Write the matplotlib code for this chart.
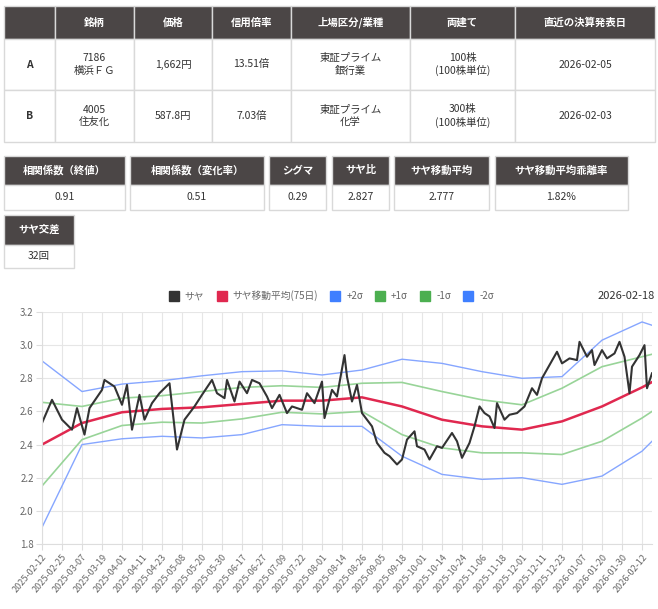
import matplotlib
matplotlib.use("Agg")
import matplotlib.pyplot as plt
from matplotlib.patches import Rectangle
from matplotlib.lines import Line2D

plt.rcParams['font.family'] = ['Noto Sans CJK JP', 'DejaVu Sans']

# ---- table data ----
head_cols = ["", "銘柄", "価格", "信用倍率", "上場区分/業種", "両建て", "直近の決算発表日"]
row_a = ["A", "7186\n横浜ＦＧ", "1,662円", "13.51倍", "東証プライム\n銀行業", "100株\n(100株単位)", "2026-02-05"]
row_b = ["B", "4005\n住友化", "587.8円", "7.03倍", "東証プライム\n化学", "300株\n(100株単位)", "2026-02-03"]
stat_names = ["相関係数（終値）", "相関係数（変化率）", "シグマ", "サヤ比", "サヤ移動平均", "サヤ移動平均乖離率"]
stat_values = ["0.91", "0.51", "0.29", "2.827", "2.777", "1.82%"]
cross_name = "サヤ交差"
cross_value = "32回"

# ---- chart data ----
tick_labels = ["2025-02-12", "2025-02-25", "2025-03-07", "2025-03-19", "2025-04-01", "2025-04-11",
               "2025-04-23", "2025-05-08", "2025-05-20", "2025-05-30", "2025-06-17", "2025-06-27",
               "2025-07-09", "2025-07-22", "2025-08-01", "2025-08-14", "2025-08-26", "2025-09-05",
               "2025-09-18", "2025-10-01", "2025-10-14", "2025-10-24", "2025-11-06", "2025-11-18",
               "2025-12-01", "2025-12-11", "2025-12-23", "2026-01-07", "2026-01-20", "2026-01-30",
               "2026-02-12"]
saya_days = [0, 4, 8, 12, 14, 17, 19, 24, 25, 29, 32, 34, 36, 39, 41, 44, 47, 51, 54, 57, 61, 64,
             68, 70, 73, 74, 77, 79, 82, 84, 87, 90, 92, 95, 98, 100, 104, 106, 109, 112, 113, 116,
             118, 121, 122, 124, 126, 128, 132, 134, 137, 139, 142, 144, 146, 149, 150, 153, 155,
             158, 160, 164, 166, 168, 171, 173, 175, 177, 179, 181, 182, 185, 187, 190, 193, 196,
             198, 200, 203, 206, 208, 211, 214, 215, 218, 220, 221, 224, 226, 229, 231, 233, 235,
             236, 239, 241, 242, 244]
saya = [2.53, 2.67, 2.55, 2.49, 2.62, 2.46, 2.62, 2.73, 2.79, 2.75, 2.64, 2.76, 2.49, 2.70, 2.55,
        2.65, 2.71, 2.77, 2.37, 2.55, 2.63, 2.70, 2.79, 2.71, 2.68, 2.79, 2.66, 2.78, 2.71, 2.79,
        2.77, 2.69, 2.62, 2.70, 2.59, 2.63, 2.61, 2.71, 2.65, 2.78, 2.56, 2.73, 2.69, 2.94, 2.81,
        2.66, 2.76, 2.59, 2.51, 2.41, 2.35, 2.33, 2.28, 2.31, 2.43, 2.48, 2.39, 2.37, 2.31, 2.39,
        2.38, 2.47, 2.42, 2.32, 2.41, 2.51, 2.63, 2.59, 2.57, 2.50, 2.65, 2.55, 2.58, 2.59, 2.63,
        2.74, 2.70, 2.80, 2.88, 2.96, 2.89, 2.92, 2.91, 3.02, 2.93, 2.97, 2.88, 2.97, 2.92, 2.95,
        3.02, 2.93, 2.71, 2.87, 2.94, 3.00, 2.74, 2.83]
band_days = [0, 16, 32, 48, 64, 80, 96, 112, 128, 144, 160, 176, 192, 208, 224, 240, 244]
ma = [2.40, 2.53, 2.595, 2.615, 2.625, 2.645, 2.665, 2.665, 2.685, 2.63, 2.55, 2.51, 2.49, 2.54, 2.63, 2.745, 2.777]
p1 = [2.655, 2.63, 2.68, 2.695, 2.72, 2.745, 2.755, 2.745, 2.77, 2.775, 2.72, 2.67, 2.64, 2.74, 2.87, 2.93, 2.945]
p2 = [2.905, 2.72, 2.765, 2.785, 2.815, 2.84, 2.845, 2.82, 2.85, 2.915, 2.89, 2.84, 2.80, 2.81, 3.03, 3.14, 3.12]
m1 = [2.15, 2.43, 2.515, 2.535, 2.53, 2.555, 2.595, 2.585, 2.60, 2.46, 2.38, 2.35, 2.35, 2.34, 2.42, 2.56, 2.60]
m2 = [1.90, 2.40, 2.435, 2.45, 2.44, 2.46, 2.52, 2.51, 2.51, 2.33, 2.22, 2.19, 2.20, 2.16, 2.21, 2.36, 2.42]
tick_step = 8

HEAD = '#4b4646'
BORDER = '#d9d9d9'

fig = plt.figure(figsize=(6.58, 6.09), dpi=100)
bg = fig.add_axes([0, 0, 1, 1])
bg.set_xlim(0, 658)
bg.set_ylim(609, 0)
bg.axis('off')


def cell(x0, x1, y0, y1, text, header=False, bold=False, size=7.5):
    bg.add_patch(Rectangle((x0, y0), x1 - x0, y1 - y0, facecolor=HEAD if header else 'white',
                           edgecolor=BORDER, linewidth=1))
    bg.text((x0 + x1) / 2, (y0 + y1) / 2, text, ha='center', va='center', fontsize=size,
            color='white' if header else '#333333', fontweight='bold' if (header or bold) else 'normal',
            linespacing=1.3)


col_x = [4, 55, 134, 212, 291, 410, 515, 655]
row_y = [6, 39, 90, 142]
for i, t in enumerate(head_cols):
    cell(col_x[i], col_x[i + 1], row_y[0], row_y[1], t, header=True)
for r, row in enumerate([row_a, row_b]):
    for i, t in enumerate(row):
        cell(col_x[i], col_x[i + 1], row_y[r + 1], row_y[r + 2], t, bold=(i == 0))

stat_x = [(4, 125), (130, 264), (269, 326), (332, 389), (394, 489), (495, 628)]
for (x0, x1), n, v in zip(stat_x, stat_names, stat_values):
    cell(x0, x1, 156, 185, n, header=True)
    cell(x0, x1, 185, 210, v)
cell(4, 74, 215, 245, cross_name, header=True)
cell(4, 74, 245, 268, cross_value)

# ---- chart ----
ax = fig.add_axes([42 / 658, 1 - 544 / 609, 610 / 658, 232 / 609])
ax.plot(band_days, p2, color='#86a6ff', lw=1)
ax.plot(band_days, m2, color='#86a6ff', lw=1)
ax.plot(band_days, p1, color='#98d498', lw=1.2)
ax.plot(band_days, m1, color='#98d498', lw=1.2)
ax.plot(band_days, ma, color='#e0284f', lw=1.8)
ax.plot(saya_days, saya, color='#333333', lw=1.5)

ax.set_xlim(0, saya_days[-1])
ax.set_ylim(1.8, 3.2)
ax.set_xticks(range(0, tick_step * len(tick_labels), tick_step))
ax.set_xticklabels(tick_labels, rotation=50, ha='right', rotation_mode='anchor', fontsize=6.5, color='#666666')
ax.set_yticks([1.8, 2.0, 2.2, 2.4, 2.6, 2.8, 3.0, 3.2])
ax.set_yticklabels(['1.8', '2.0', '2.2', '2.4', '2.6', '2.8', '3.0', '3.2'], fontsize=7, color='#666666')
ax.grid(True, color='#e6e6e6', lw=0.8)
ax.set_axisbelow(True)
for s in ['top', 'right']:
    ax.spines[s].set_visible(False)
for s in ['left', 'bottom']:
    ax.spines[s].set_color('#dddddd')
ax.tick_params(length=4, color='#dddddd', pad=2)

handles = [Line2D([], [], marker='s', ls='', color=c, markersize=7) for c in
           ['#333333', '#e0284f', '#3f7fff', '#4caf50', '#4caf50', '#3f7fff']]
labels = ['サヤ', 'サヤ移動平均(75日)', '+2σ', '+1σ', '-1σ', '-2σ']
fig.legend(handles, labels, loc='center', bbox_to_anchor=(329 / 658, 1 - 296 / 609), ncol=6,
           frameon=False, fontsize=7, handletextpad=0.1, columnspacing=0.8, labelcolor='#666666')
fig.text(655 / 658, 1 - 296 / 609, '2026-02-18', ha='right', va='center', fontsize=8, color='#333333')

fig.savefig('out.png', dpi=100)
